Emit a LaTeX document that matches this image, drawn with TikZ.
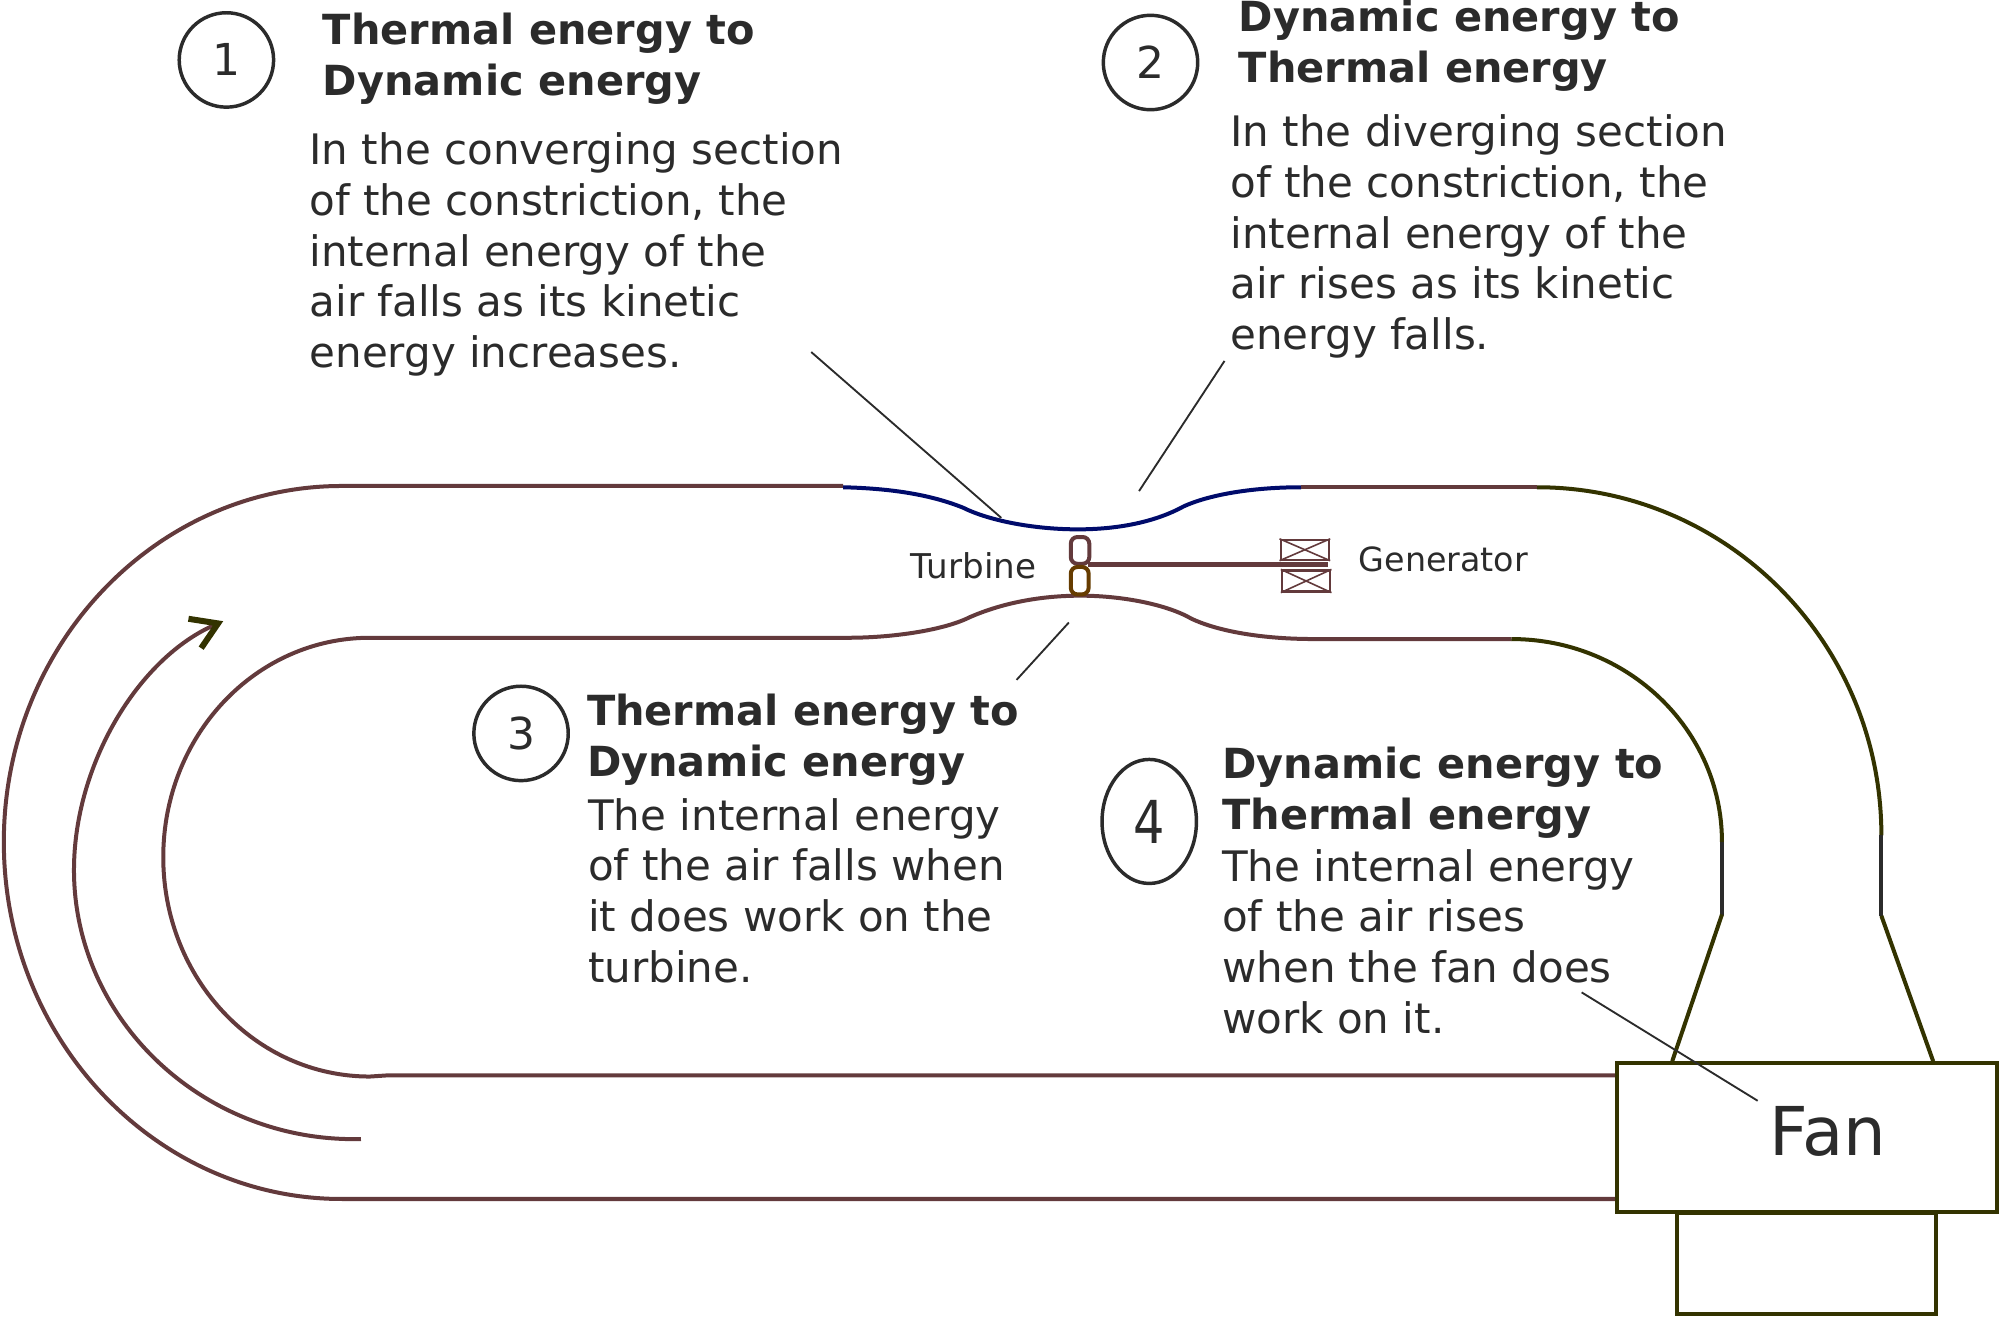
\documentclass[tikz,border=0pt]{standalone}
\usepackage{fontspec}
\setmainfont{DejaVu Sans}
\usetikzlibrary{arrows.meta,shapes.geometric}
\definecolor{pipebrown}{HTML}{633A3C}
\definecolor{pipeblue}{HTML}{000B6B}
\definecolor{pipeolive}{HTML}{333300}
\definecolor{pipedark}{HTML}{2B2B2B}
\definecolor{bladeorange}{HTML}{663C00}
\tikzset{
  body/.style={inner sep=0pt,anchor=north west,align=left,text=pipedark,
    font=\fontsize{31.5}{38}\selectfont},
  head/.style={body,font=\fontsize{31.1}{38}\selectfont\bfseries},
  small/.style={inner sep=0pt,anchor=base west,text=pipedark,
    font=\fontsize{25}{30}\selectfont},
  num/.style={draw=pipedark,line width=2.6pt,circle,minimum size=70.8pt,inner sep=0pt,
    text=pipedark,font=\fontsize{33}{38}\selectfont},
  pipe/.style={line width=3pt},
  leader/.style={draw=pipedark,line width=1.4pt}
}
\begin{document}
\begin{tikzpicture}
  [x=.9566pt,y=-.9566pt]
  \useasboundingbox (0,0) rectangle (1568,1032);

  % outer wall
  \draw[pipe,pipebrown] (1267,940) -- (268,940) .. controls (122,940) and (3,815) .. (3,660)
    .. controls (3,506) and (122,381) .. (268,381) -- (661,381);
  \draw[pipe,pipeblue] (661,382) .. controls (700,383) and (730,388) .. (755,398)
    .. controls (775,408) and (810,415) .. (845,415)
    .. controls (880,415) and (908,408) .. (928,397)
    .. controls (950,387) and (985,382) .. (1020,382);
  \draw[pipe,pipebrown] (1020,382) -- (1205,382);
  \draw[pipe,pipeolive] (1205,382) .. controls (1354,382) and (1475,504) .. (1475,655);
  \draw[pipe,pipedark] (1475,655) -- (1475,718);
  \draw[pipe,pipeolive] (1475,718) -- (1515.6,832);

  % inner wall
  \draw[pipe,pipebrown] (1267,843) -- (305,843) -- (290,844) .. controls (200,844) and (128,767) .. (128,672)
    .. controls (128,577) and (200,500) .. (290,500) -- (665,500)
    .. controls (700,500) and (740,494) .. (760,484)
    .. controls (785,473) and (815,467) .. (847,467)
    .. controls (880,467) and (915,474) .. (934,485)
    .. controls (955,495) and (990,501) .. (1030,501) -- (1185,501);
  \draw[pipe,pipeolive] (1185,501) .. controls (1276,501) and (1350,572) .. (1350,660);
  \draw[pipe,pipedark] (1350,660) -- (1350,717);
  \draw[pipe,pipeolive] (1350,717) -- (1311,832);

  % flow arrow
  \draw[pipe,pipebrown,-{Straight Barb[color=pipeolive,length=19pt,width=24pt,line width=4.5pt]}]
    (283,893) .. controls (160,896) and (58,800) .. (58,682)
    .. controls (58,600) and (108,516) .. (175,487);

  % fan
  \node[draw=pipeolive,line width=3pt,minimum width=285.1pt,minimum height=111.6pt,fill=white,inner sep=0pt]
    (fanbox) at (1417,892) {};
  \node[draw=pipeolive,line width=3pt,minimum width=194.2pt,minimum height=75.5pt,inner sep=0pt]
    (fanbase) at (1416.5,990.5) {};
  \node[inner sep=0pt,anchor=base west,text=pipedark,font=\fontsize{50.5}{60}\selectfont]
    (fan) at (1387,906) {Fan};

  % turbine and generator
  \draw[line width=3pt,pipebrown,rounded corners=5pt] (839.5,421) rectangle (854,442);
  \draw[line width=3pt,bladeorange,rounded corners=5pt] (839.5,444.5) rectangle (853.5,466);
  \draw[line width=3.2pt,pipebrown] (853,442.5) -- (1041,442.5);
  \node[draw=pipebrown,line width=1.6pt,minimum width=36.4pt,minimum height=14.8pt,inner sep=0pt]
    (gen1) at (1023,431) {};
  \node[draw=pipebrown,line width=1.6pt,minimum width=36.4pt,minimum height=15.8pt,inner sep=0pt]
    (gen2) at (1024,455.5) {};
  \foreach \g in {gen1,gen2} {
    \draw[pipebrown,line width=1.2pt] (\g.north west) -- (\g.south east);
    \draw[pipebrown,line width=1.2pt] (\g.south west) -- (\g.north east);
  }
  \node[small,font=\fontsize{25.6}{30}\selectfont] (turbine) at (714,453.5) {Turbine};
  \node[small] (generator) at (1065,448) {Generator};

  % numbered notes
  \node[num] (c1) at (177.5,47) {1};
  \node[num] (c2) at (902,49) {2};
  \node[num] (c3) at (408.5,575) {3};
  \node[num,ellipse,minimum width=70.8pt,minimum height=93pt,font=\fontsize{37}{38}\selectfont]
    (c4) at (901,644) {\scalebox{1}[1.2]{4}};

  \node[head] (h1) at (253,10) {Thermal energy to\\Dynamic energy};
  \node[body] (t1) at (242.5,104) {In the converging section\\of the constriction, the\\internal energy of the\\air falls as its kinetic\\energy increases.};
  \node[head] (h2) at (971,0) {Dynamic energy to\\Thermal energy};
  \node[body] (t2) at (964.5,90) {In the diverging section\\of the constriction, the\\internal energy of the\\air rises as its kinetic\\energy falls.};
  \node[head] (h3) at (460,544) {Thermal energy to\\Dynamic energy};
  \node[body] (t3) at (461,625.5) {The internal energy\\of the air falls when\\it does work on the\\turbine.};
  \node[head] (h4) at (958,585.5) {Dynamic energy to\\Thermal energy};
  \node[body] (t4) at (958,665.5) {The internal energy\\of the air rises\\when the fan does\\work on it.};

  % leader lines
  \coordinate (a1) at (636,276);
  \coordinate (a2) at (785,406);
  \coordinate (b1) at (960,283);
  \coordinate (b2) at (893,385);
  \coordinate (d1) at (838,488);
  \coordinate (d2) at (797,533);
  \coordinate (e1) at (1240,778);
  \coordinate (e2) at (1378,863);
  \foreach \from/\to in {a1/a2,b1/b2,d1/d2,e1/e2}
    \draw[leader] (\from) -- (\to);
\end{tikzpicture}
\end{document}
